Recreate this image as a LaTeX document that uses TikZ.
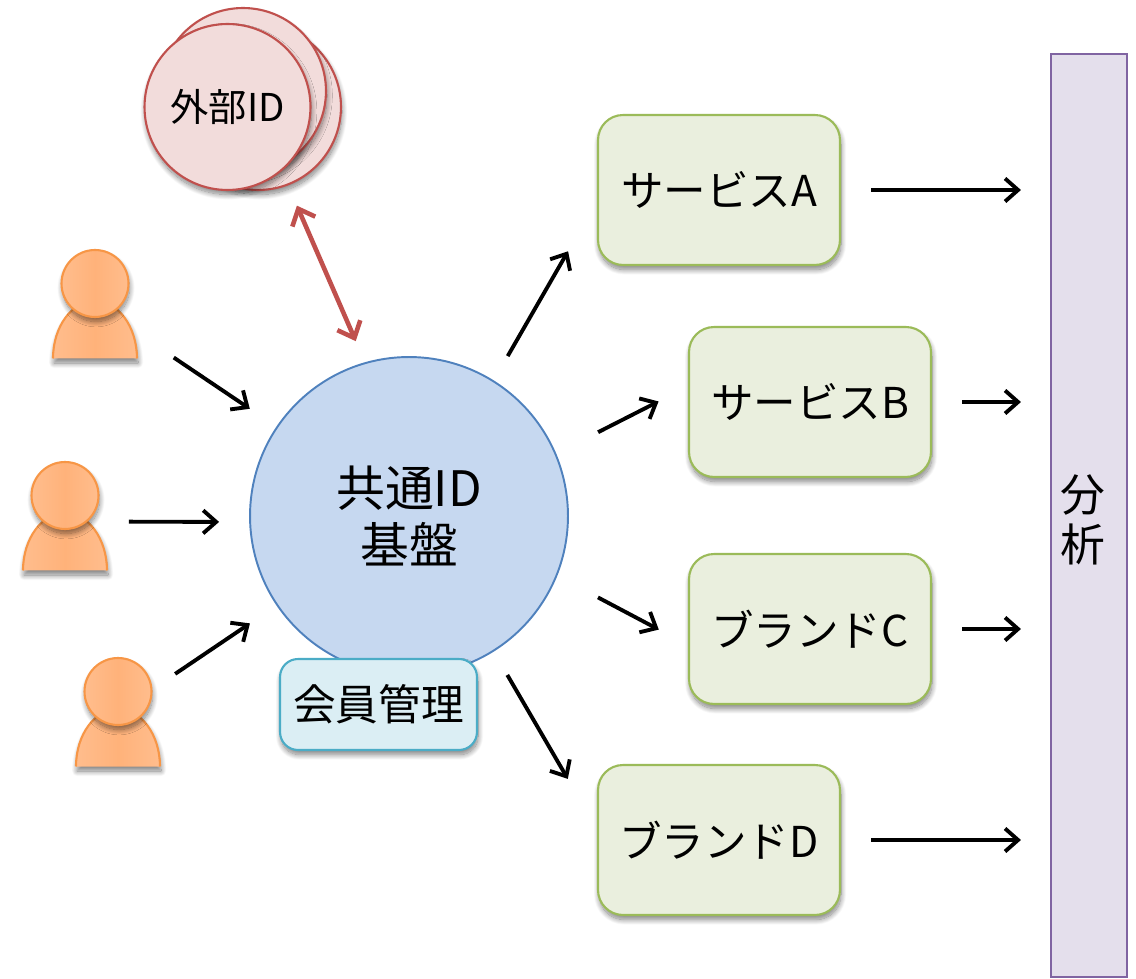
\documentclass[tikz,border=0pt]{standalone}
\usepackage{fontspec}
\setmainfont{Noto Sans CJK JP}
\usepackage{xcolor}
\usetikzlibrary{arrows.meta,shadows.blur}

\definecolor{hubfill}{HTML}{C6D8F0}
\definecolor{hubline}{HTML}{4F81BD}
\definecolor{extfill}{HTML}{F2DCDB}
\definecolor{extline}{HTML}{C0504D}
\definecolor{svcfill}{HTML}{EAEFDE}
\definecolor{svcline}{HTML}{9BBB59}
\definecolor{memfill}{HTML}{DBEEF4}
\definecolor{memline}{HTML}{4BACC6}
\definecolor{anafill}{HTML}{E4DFEC}
\definecolor{analine}{HTML}{8064A2}
\definecolor{userline}{HTML}{F79646}
\definecolor{userdark}{HTML}{FFB27A}
\definecolor{userlight}{HTML}{FFBD8D}

\tikzset{
  softshadow/.style={blur shadow={shadow xshift=0.6pt,shadow yshift=-2.6pt,shadow blur radius=3pt,shadow blur steps=14,shadow opacity=50}},
  svcbox/.style={draw=svcline,fill=svcfill,line width=1.2pt,rounded corners=0.5cm,
    minimum width=4.84cm,minimum height=3cm,inner sep=0pt,font=\fontsize{24.2}{28}\selectfont,softshadow},
  extcircle/.style={circle,draw=extline,fill=extfill,line width=1.2pt,minimum size=3.32cm,inner sep=0pt,
    font=\fontsize{21.8}{25}\selectfont,softshadow},
  userhead/.style={circle,draw=userline,line width=1.2pt,minimum size=1.34cm,inner sep=0pt,
    left color=userlight,right color=userlight,middle color=userdark,softshadow},
  flow/.style={-{Straight Barb[length=0.26cm,width=0.46cm,line width=2.2pt]},line width=2.2pt},
}

\begin{document}
\begin{tikzpicture}[x=0.02cm,y=-0.02cm]
  \useasboundingbox (0,0) rectangle (1136,979);

  % analysis bar
  \node[draw=analine,fill=anafill,line width=1.2pt,minimum width=1.52cm,minimum height=18.46cm,inner sep=0pt] (ana) at (1089,515.5) {};
  \node[align=center,inner sep=0pt,font=\fontsize{25.5}{28.5}\selectfont] (anaText) at (1083,520) {分\\析};

  % external IDs
  \node[extcircle] (ext3) at (258,107) {};
  \node[extcircle] (ext2) at (243,91) {};
  \node[extcircle] (ext1) at (227.5,107) {\raisebox{-0.08cm}{外部ID}};

  % common ID platform
  \node[circle,draw=hubline,fill=hubfill,line width=1.1pt,minimum size=6.36cm,inner sep=0pt,
    align=center,font=\fontsize{27.8}{33}\selectfont] (hub) at (409,516) {共通ID\\基盤};
  \node[draw=memline,fill=memfill,line width=1.2pt,rounded corners=0.36cm,minimum width=3.94cm,minimum height=1.82cm,
    inner sep=0pt,font=\fontsize{24.3}{28}\selectfont,softshadow] (member) at (378.5,704.5) {会員管理};

  % services and brands
  \node[svcbox] (svcA) at (719,190) {サービスA};
  \node[svcbox] (svcB) at (810,402) {サービスB};
  \node[svcbox] (brandC) at (810,629) {ブランドC};
  \node[svcbox] (brandD) at (719,840) {ブランドD};

  % users
  \foreach \id/\x/\y in {1/95/304.5,2/65/516.5,3/118/712.5}{
    \coordinate (user\id) at (\x,\y);
    \path[left color=userlight,right color=userlight,middle color=userdark,softshadow]
      (\x-42,\y+54) arc[start angle=180,end angle=0,x radius=0.84cm,y radius=1.15cm] -- cycle;
    \draw[userline,line width=1.2pt]
      (\x-42,\y+54) arc[start angle=180,end angle=0,x radius=0.84cm,y radius=1.15cm];
    \node[userhead] (head\id) at (\x,\y-21) {};
  }

  % users to platform
  \draw[flow,shorten <=1.9cm,shorten >=0.64cm] (user1) -- (hub);
  \draw[flow,shorten <=1.28cm,shorten >=0.6cm] ([yshift=-0.1cm]user2) -- ([yshift=-0.12cm]hub.west);
  \draw[flow,shorten <=1.38cm,shorten >=0.64cm] (user3) -- (hub);

  % external link
  \draw[extline,{Straight Barb[length=0.28cm,width=0.5cm,line width=2.6pt]}-{Straight Barb[length=0.28cm,width=0.5cm,line width=2.6pt]},
    line width=2.6pt,shorten <=0.44cm,shorten >=0.46cm] (ext3.-69) -- (hub.106.5);

  % platform to services
  \draw[flow,shorten <=0.56cm,shorten >=1.16cm] (hub.58.5) -- ([yshift=-0.22cm]svcA.west);
  \draw[flow,shorten <=0.94cm,shorten >=0.66cm] (hub.23) -- ([yshift=0.31cm]svcB.west);
  \draw[flow,shorten <=0.92cm,shorten >=0.66cm] (hub.-22) -- ([yshift=-0.32cm]brandC.west);
  \draw[flow,shorten <=0.54cm,shorten >=1.16cm] (hub.-58.2) -- ([yshift=0.22cm]brandD.west);

  % services to analysis
  \draw[flow,shorten <=0.6cm,shorten >=0.58cm] (svcA.east) -- (svcA.east -| ana.west);
  \draw[flow,shorten <=0.6cm,shorten >=0.58cm] (svcB.east) -- (svcB.east -| ana.west);
  \draw[flow,shorten <=0.6cm,shorten >=0.58cm] (brandC.east) -- (brandC.east -| ana.west);
  \draw[flow,shorten <=0.6cm,shorten >=0.58cm] (brandD.east) -- (brandD.east -| ana.west);
\end{tikzpicture}
\end{document}
